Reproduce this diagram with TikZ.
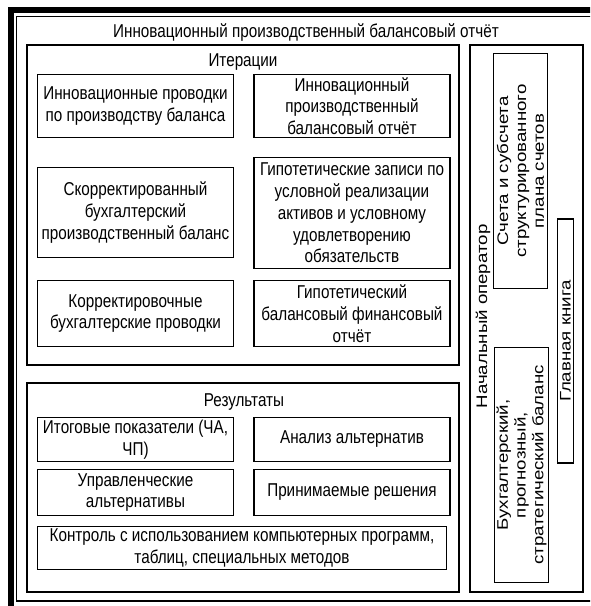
\documentclass[tikz,border=0pt]{standalone}
\usepackage{fontspec}
\setmainfont{Liberation Sans}[FakeStretch=0.82]
\newfontfamily\rotfont{Liberation Sans}[FakeStretch=1.22]
\usetikzlibrary{positioning}

\begin{document}
\begin{tikzpicture}[
    x=1pt,y=-1pt,
    hfont/.style={font=\fontsize{18.6}{21.7}\selectfont},
    box/.style={draw,line width=1.5pt,align=center,inner sep=0pt,hfont},
    panel/.style={draw,line width=1.5pt,inner sep=0pt},
    rbox/.style={draw,line width=1.5pt,align=center,inner sep=0pt,rotate=90,font=\rotfont\fontsize{15.3}{17.8}\selectfont},
    lbl/.style={inner sep=0pt,anchor=base,hfont}
]
\useasboundingbox (0,0) rectangle (590,606);
\clip (0,0) rectangle (590,606);
\draw[line width=6pt] (11,10) rectangle (620,620);
\draw[line width=1.2pt] (16.5,16.3) rectangle (600,601);
\node[lbl] (title) at (306,37.3) {Инновационный производственный балансовый отчёт};
\node[panel,minimum width=432pt,minimum height=320pt] (iter) at (243,205) {};
\node[panel,minimum width=432pt,minimum height=209pt] (res) at (243,487.5) {};
\node[panel,minimum width=113pt,minimum height=547pt] (oper) at (526.5,318.5) {};
\node[lbl] (iterlbl) at (243,66) {Итерации};
\node[lbl] (reslbl) at (244,406) {Результаты};
\node[box,minimum width=196pt,minimum height=63pt] (prov) at (135.5,106) {Инновационные проводки\\по производству баланса};
\node[box,minimum width=196pt,minimum height=63pt] (otch) at (352,106) {Инновационный\\производственный\\балансовый отчёт};
\node[box,minimum width=196pt,minimum height=90pt] (skor) at (135.5,212.5) {Скорректированный\\бухгалтерский\\производственный баланс};
\node[box,minimum width=196pt,minimum height=111pt] (gipz) at (352,213) {Гипотетические записи по\\условной реализации\\активов и условному\\удовлетворению\\обязательств};
\node[box,minimum width=196pt,minimum height=66pt] (korr) at (135.5,313.5) {Корректировочные\\бухгалтерские проводки};
\node[box,minimum width=196pt,minimum height=66pt] (gipo) at (352,313.5) {Гипотетический\\балансовый финансовый\\отчёт};
\node[box,minimum width=196pt,minimum height=44pt] (itog) at (135.5,439.5) {Итоговые показатели (ЧА,\\ЧП)};
\node[box,minimum width=196pt,minimum height=44pt] (anal) at (352,439.5) {Анализ альтернатив};
\node[box,minimum width=196pt,minimum height=46pt] (upr) at (135.5,492.5) {Управленческие\\альтернативы};
\node[box,minimum width=196pt,minimum height=46pt] (resh) at (352,492.5) {Принимаемые решения};
\node[box,minimum width=409pt,minimum height=43pt] (kontr) at (242,548) {Контроль с использованием компьютерных программ,\\таблиц, специальных методов};
\node[lbl,rotate=90,font=\rotfont\fontsize{15.3}{17.8}\selectfont] (nach) at (487,316.5) {Начальный оператор};
\node[rbox,minimum width=235pt,minimum height=54pt] (scheta) at (520.5,171) {Счета и субсчета\\структурированного\\плана счетов};
\node[rbox,minimum width=244pt,minimum height=16pt] (kniga) at (565.5,341) {Главная книга};
\node[rbox,minimum width=235pt,minimum height=54pt] (buh) at (521.5,465) {Бухгалтерский,\\прогнозный,\\стратегический баланс};
\end{tikzpicture}
\end{document}
